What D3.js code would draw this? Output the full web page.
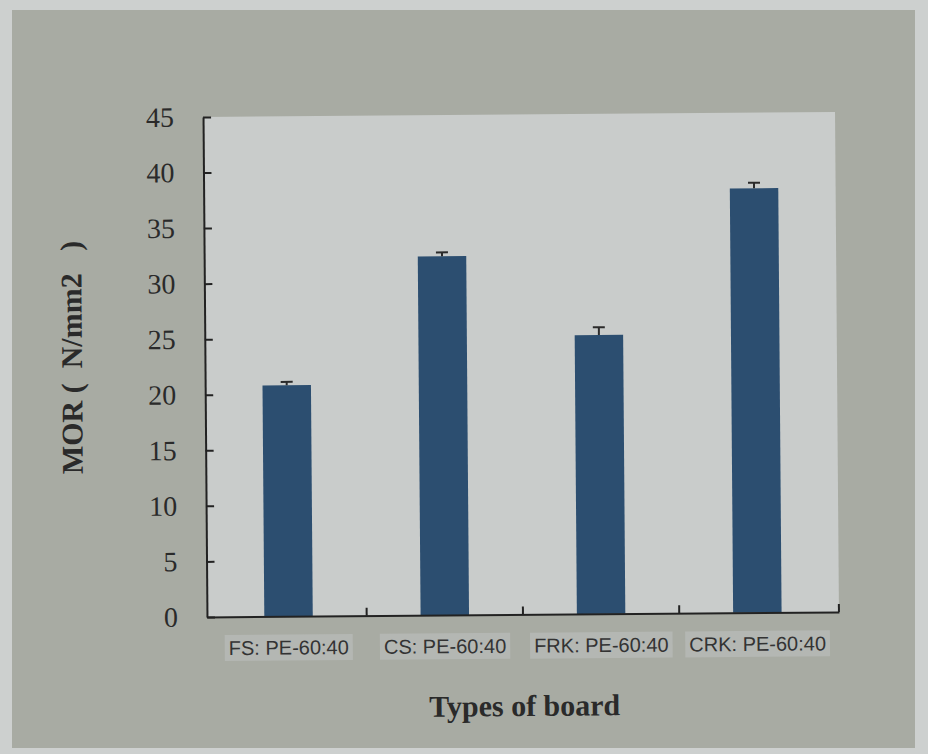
<!DOCTYPE html>
<html>
<head>
<meta charset="utf-8">
<script src="https://cdn.jsdelivr.net/npm/d3@7"></script>
<style>
  html, body { margin: 0; padding: 0; background: #cdd0cf; }
  svg { display: block; }
</style>
</head>
<body>
<script>
// MOR of the four board types (mean with standard error)
const categories = ["FS: PE-60:40", "CS: PE-60:40", "FRK: PE-60:40", "CRK: PE-60:40"];
const morValues = [20.8, 32.3, 25.1, 38.2];
const morErrors = [0.3, 0.35, 0.7, 0.5];
const yTickValues = [0, 5, 10, 15, 20, 25, 30, 35, 40, 45];

const W = 928, H = 754;
const plot = { left: 205, right: 837, top: 114.5, bottom: 614.5 };

const svg = d3.select("body").append("svg")
  .attr("width", W).attr("height", H);

// page and panel backgrounds
svg.append("rect").attr("width", W).attr("height", H).attr("fill", "#cdd0cf");
svg.append("rect").attr("x", 12).attr("y", 10).attr("width", 903).attr("height", 738)
  .attr("fill", "#a8aba3");

const g = svg.append("g").attr("transform", "rotate(-0.45, 522, 366)");

const x = d3.scaleBand().domain(categories)
  .range([plot.left, plot.right])
  .paddingInner(0.69).paddingOuter(0.367);

const y = d3.scaleLinear().domain([0, 45]).range([plot.bottom, plot.top]);

// plot area
g.append("rect")
  .attr("x", plot.left).attr("y", plot.top)
  .attr("width", plot.right - plot.left).attr("height", plot.bottom - plot.top)
  .attr("fill", "#c9cccb");

// bars
g.selectAll("rect.bar").data(categories).join("rect")
  .attr("class", "bar")
  .attr("x", d => x(d))
  .attr("width", x.bandwidth())
  .attr("y", (d, i) => y(morValues[i]))
  .attr("height", (d, i) => y(0) - y(morValues[i]))
  .attr("fill", "#2c4e70");

// error bars (upper whisker with cap)
const eb = g.selectAll("g.err").data(categories).join("g").attr("class", "err");
eb.append("line")
  .attr("x1", d => x(d) + x.bandwidth() / 2).attr("x2", d => x(d) + x.bandwidth() / 2)
  .attr("y1", (d, i) => y(morValues[i])).attr("y2", (d, i) => y(morValues[i] + morErrors[i]))
  .attr("stroke", "#2b2b2b").attr("stroke-width", 2);
eb.append("line")
  .attr("x1", d => x(d) + x.bandwidth() / 2 - 6).attr("x2", d => x(d) + x.bandwidth() / 2 + 6)
  .attr("y1", (d, i) => y(morValues[i] + morErrors[i])).attr("y2", (d, i) => y(morValues[i] + morErrors[i]))
  .attr("stroke", "#2b2b2b").attr("stroke-width", 2);

// y axis, ticks pointing into the plot
const yAxis = g.append("g")
  .attr("transform", `translate(${plot.left},0)`)
  .call(d3.axisLeft(y).tickValues(yTickValues).tickSizeInner(-8).tickSizeOuter(0).tickPadding(29));
yAxis.select(".domain").attr("stroke", "#222").attr("stroke-width", 2);
yAxis.selectAll(".tick line").attr("stroke", "#222").attr("stroke-width", 2);
yAxis.selectAll(".tick text")
  .attr("font-family", "'Liberation Serif', 'Times New Roman', serif")
  .attr("font-size", 28).attr("fill", "#2a2a2a");

// x axis with labels below and upward ticks between categories
const xAxis = g.append("g")
  .attr("transform", `translate(0,${plot.bottom})`)
  .call(d3.axisBottom(x).tickSize(0).tickPadding(24));
xAxis.select(".domain").attr("stroke", "#222").attr("stroke-width", 2);
const gap = x.step() * x.paddingInner();
xAxis.selectAll(".tick").each(function () {
  const t = d3.select(this);
  const txt = t.select("text")
    .attr("font-family", "'Liberation Sans', Arial, sans-serif")
    .attr("font-size", 20).attr("fill", "#333");
  const bb = txt.node().getBBox();
  t.insert("rect", "text")
    .attr("x", bb.x - 4).attr("y", bb.y - 2)
    .attr("width", bb.width + 8).attr("height", bb.height + 4)
    .attr("fill", "#b4b7b3");
});
xAxis.selectAll("line.bound").data(categories).join("line")
  .attr("class", "bound")
  .attr("x1", (d, i) => i === categories.length - 1 ? plot.right : x(d) + x.bandwidth() + gap / 2)
  .attr("x2", (d, i) => i === categories.length - 1 ? plot.right : x(d) + x.bandwidth() + gap / 2)
  .attr("y1", 0).attr("y2", -8)
  .attr("stroke", "#222").attr("stroke-width", 2);

// axis titles
g.append("text")
  .attr("transform", "translate(82,354) rotate(-90)")
  .attr("text-anchor", "middle")
  .attr("xml:space", "preserve")
  .style("white-space", "pre")
  .attr("font-family", "'Liberation Serif', 'Times New Roman', serif")
  .attr("font-weight", "bold").attr("font-size", 30).attr("fill", "#2a2a2a")
  .text("MOR (  N/mm2   )");

g.append("text")
  .attr("x", 522).attr("y", 716)
  .attr("text-anchor", "middle")
  .attr("font-family", "'Liberation Serif', 'Times New Roman', serif")
  .attr("font-weight", "bold").attr("font-size", 30).attr("fill", "#2a2a2a")
  .text("Types of board");
</script>
</body>
</html>
